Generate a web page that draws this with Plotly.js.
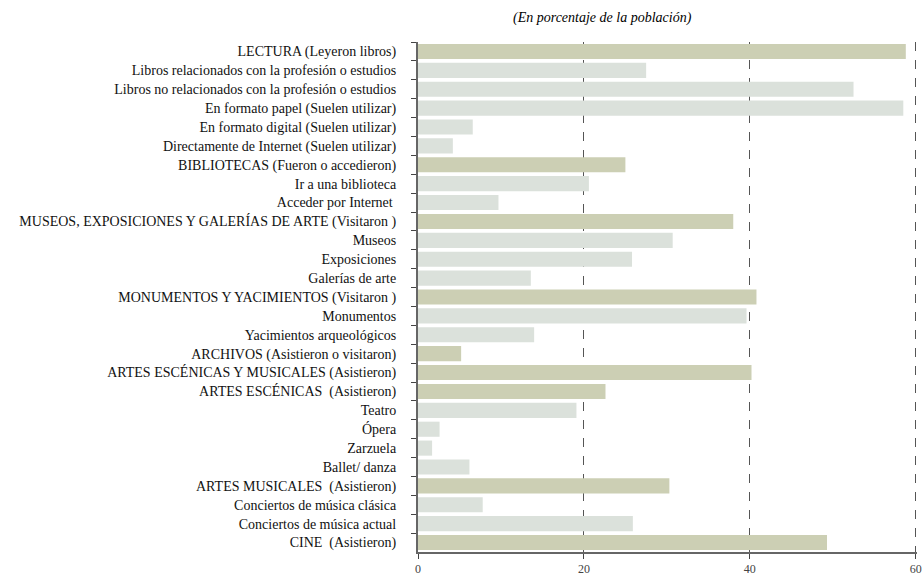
<!DOCTYPE html>
<html>
<head>
<meta charset="utf-8">
<script src="https://cdn.plot.ly/plotly-3.0.1.min.js"></script>
<style>
  html, body { margin: 0; padding: 0; background: #fff; }
  #chart { width: 924px; height: 581px; }
</style>
</head>
<body>
<div id="chart"></div>
<script>
// categories, top to bottom
const categories = [
  'LECTURA (Leyeron libros)',
  'Libros relacionados con la profesión o estudios',
  'Libros no relacionados con la profesión o estudios',
  'En formato papel (Suelen utilizar)',
  'En formato digital (Suelen utilizar)',
  'Directamente de Internet (Suelen utilizar)',
  'BIBLIOTECAS (Fueron o accedieron)',
  'Ir a una biblioteca',
  'Acceder por Internet ',
  'MUSEOS, EXPOSICIONES Y GALERÍAS DE ARTE (Visitaron )',
  'Museos',
  'Exposiciones',
  'Galerías de arte',
  'MONUMENTOS Y YACIMIENTOS (Visitaron )',
  'Monumentos',
  'Yacimientos arqueológicos',
  'ARCHIVOS (Asistieron o visitaron)',
  'ARTES ESCÉNICAS Y MUSICALES (Asistieron)',
  'ARTES ESCÉNICAS  (Asistieron)',
  'Teatro',
  'Ópera',
  'Zarzuela',
  'Ballet/ danza',
  'ARTES MUSICALES  (Asistieron)',
  'Conciertos de música clásica',
  'Conciertos de música actual',
  'CINE  (Asistieron)'
];

const values = [
  58.8, 27.5, 52.5, 58.5, 6.6, 4.2,
  25.0, 20.6, 9.7,
  38.0, 30.7, 25.8, 13.6,
  40.8, 39.6, 14.0,
  5.2,
  40.2, 22.6, 19.1, 2.6, 1.7, 6.2,
  30.3, 7.8, 25.9,
  49.3
];

// 1 = main group (darker bar), 0 = sub item
const isGroup = [
  1, 0, 0, 0, 0, 0,
  1, 0, 0,
  1, 0, 0, 0,
  1, 0, 0,
  1,
  1, 1, 0, 0, 0, 0,
  1, 0, 0,
  1
];

const xTicks = [0, 20, 40, 60];

const colors = isGroup.map(g => g ? '#cccfb4' : '#dbe1db');

const serif = '"Liberation Serif", "DejaVu Serif", serif';

const data = [{
  type: 'bar',
  orientation: 'h',
  y: categories,
  x: values,
  marker: { color: colors, line: { width: 0 } },
  hoverinfo: 'x+y'
}];

const layout = {
  width: 924,
  height: 581,
  margin: { l: 418, r: 7, t: 42, b: 29 },
  paper_bgcolor: '#fff',
  plot_bgcolor: '#fff',
  bargap: 0.2,
  showlegend: false,
  font: { family: serif, size: 13, color: '#000' },
  annotations: [{
    text: '<i>(En porcentaje de la población)</i>',
    xref: 'paper', yref: 'paper',
    x: 0.37, y: 1, yanchor: 'bottom', yshift: 14,
    showarrow: false,
    font: { family: serif, size: 14, color: '#000' }
  }],
  xaxis: {
    range: [0, 60.15],
    tickvals: xTicks,
    ticktext: xTicks.map(String),
    ticks: 'outside', ticklen: 5, tickcolor: '#444',
    tickfont: { family: serif, size: 12, color: '#444' },
    showline: true, linecolor: '#666', linewidth: 2,
    showgrid: true, gridcolor: '#555', griddash: 'dash', gridwidth: 1,
    zeroline: false,
    fixedrange: true
  },
  yaxis: {
    type: 'category',
    autorange: 'reversed',
    tickson: 'boundaries',
    ticks: 'outside', ticklen: 5, tickcolor: '#444',
    ticklabelstandoff: 17,
    tickfont: { family: serif, size: 14, color: '#111' },
    showline: true, linecolor: '#666', linewidth: 2,
    showgrid: false,
    zeroline: false,
    fixedrange: true
  }
};

Plotly.newPlot('chart', data, layout, { displayModeBar: false, staticPlot: true });
</script>
</body>
</html>
